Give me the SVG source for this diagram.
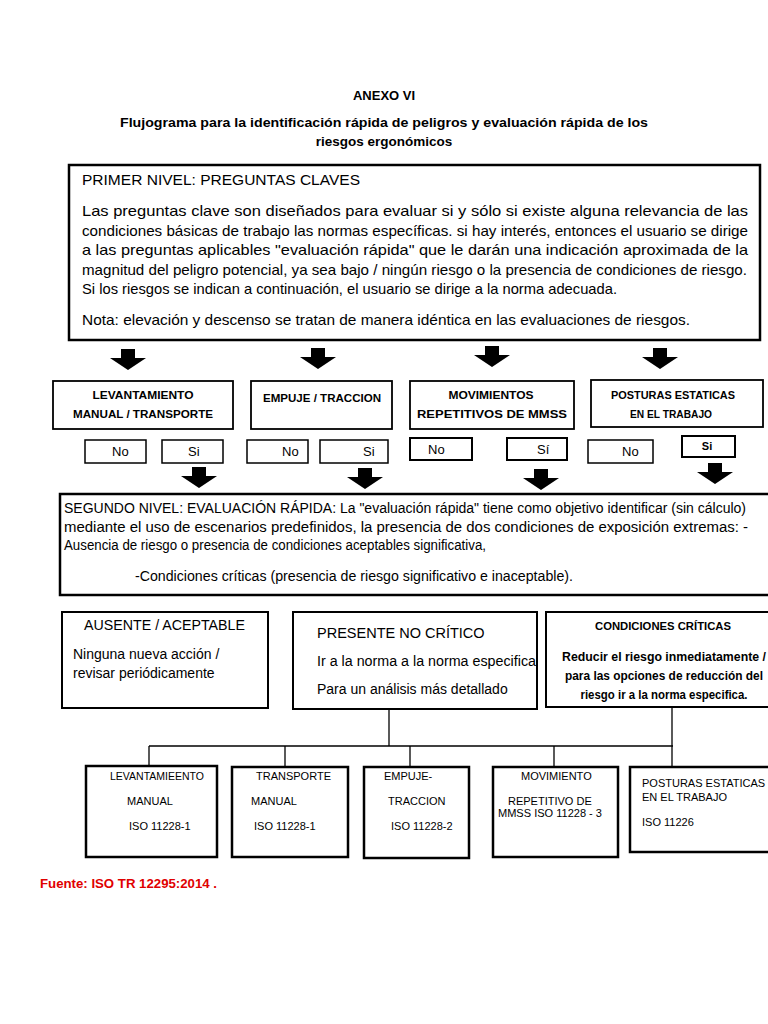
<svg xmlns="http://www.w3.org/2000/svg" width="768" height="1024" viewBox="0 0 768 1024">
<style>
.t{font-family:"Liberation Sans",Arial,sans-serif;fill:#000}
.b{font-weight:bold}
.box{fill:#fff;stroke:#000}
.ln{stroke:#000;stroke-width:1.3;fill:none}
</style>
<defs>
<path id="arr" d="M-7,0 H7 V9 H18 L0,21 L-18,9 H-7 Z" fill="#000"/>
</defs>
<rect width="768" height="1024" fill="#fff"/>
<text class="t b" x="384" y="100" font-size="13" text-anchor="middle">ANEXO VI</text>
<text class="t b" x="384" y="127" font-size="13.5" text-anchor="middle" textLength="528" lengthAdjust="spacingAndGlyphs">Flujograma para la identificación rápida de peligros y evaluación rápida de los</text>
<text class="t b" x="384" y="146" font-size="13.5" text-anchor="middle">riesgos ergonómicos</text>

<g id="primer-nivel">
<rect class="box" x="69" y="165" width="691" height="175" stroke-width="2.5"/>
<text class="t" x="82" y="185" font-size="14.5" textLength="278" lengthAdjust="spacingAndGlyphs">PRIMER NIVEL: PREGUNTAS CLAVES</text>
<text class="t" x="82" y="216" font-size="14.5" textLength="666" lengthAdjust="spacingAndGlyphs">Las preguntas clave son diseñados para evaluar si y sólo si existe alguna relevancia de las</text>
<text class="t" x="82" y="235.5" font-size="14.5" textLength="666" lengthAdjust="spacingAndGlyphs">condiciones básicas de trabajo las normas específicas. si hay interés, entonces el usuario se dirige</text>
<text class="t" x="82" y="255" font-size="14.5" textLength="666" lengthAdjust="spacingAndGlyphs">a las preguntas aplicables "evaluación rápida" que le darán una indicación aproximada de la</text>
<text class="t" x="82" y="274.5" font-size="14.5" textLength="665" lengthAdjust="spacingAndGlyphs">magnitud del peligro potencial, ya sea bajo / ningún riesgo o la presencia de condiciones de riesgo.</text>
<text class="t" x="82" y="294" font-size="14.5" textLength="535" lengthAdjust="spacingAndGlyphs">Si los riesgos se indican a continuación, el usuario se dirige a la norma adecuada.</text>
<text class="t" x="82" y="325" font-size="14.5" textLength="608" lengthAdjust="spacingAndGlyphs">Nota: elevación y descenso se tratan de manera idéntica en las evaluaciones de riesgos.</text>
</g>

<g id="connectors">
<use href="#arr" x="128" y="349"/>
<use href="#arr" x="318" y="348"/>
<use href="#arr" x="492" y="346"/>
<use href="#arr" x="660" y="348"/>
<use href="#arr" x="199" y="467"/>
<use href="#arr" x="365" y="468"/>
<use href="#arr" x="541" y="469"/>
<use href="#arr" x="715" y="463"/>
<line class="ln" x1="389" y1="709" x2="389" y2="746"/>
<line class="ln" x1="672" y1="707" x2="672" y2="767"/>
<line class="ln" x1="149" y1="746" x2="673" y2="746"/>
<line class="ln" x1="149" y1="746" x2="149" y2="766"/>
<line class="ln" x1="285" y1="746" x2="285" y2="767"/>
<line class="ln" x1="410" y1="746" x2="410" y2="767"/>
<line class="ln" x1="554" y1="746" x2="554" y2="767"/>
</g>

<g id="levantamiento">
<rect class="box" x="53" y="381" width="180" height="48" stroke-width="1.8"/>
<text class="t b" x="143" y="399" font-size="11.5" text-anchor="middle" textLength="101" lengthAdjust="spacingAndGlyphs">LEVANTAMIENTO</text>
<text class="t b" x="143" y="418" font-size="11.5" text-anchor="middle" textLength="140" lengthAdjust="spacingAndGlyphs">MANUAL / TRANSPORTE</text>
</g>
<g id="empuje">
<rect class="box" x="251" y="381" width="141" height="48" stroke-width="1.8"/>
<text class="t b" x="322" y="402" font-size="11.5" text-anchor="middle" textLength="118" lengthAdjust="spacingAndGlyphs">EMPUJE / TRACCION</text>
</g>
<g id="movimientos">
<rect class="box" x="410" y="381" width="164" height="48" stroke-width="1.8"/>
<text class="t b" x="491" y="399" font-size="11.5" text-anchor="middle" textLength="85" lengthAdjust="spacingAndGlyphs">MOVIMIENTOS</text>
<text class="t b" x="492" y="418" font-size="11.5" text-anchor="middle" textLength="150" lengthAdjust="spacingAndGlyphs">REPETITIVOS DE MMSS</text>
</g>
<g id="posturas">
<rect class="box" x="591" y="380" width="172" height="47" stroke-width="1.8"/>
<text class="t b" x="673" y="399" font-size="11.5" text-anchor="middle" textLength="124" lengthAdjust="spacingAndGlyphs">POSTURAS ESTATICAS</text>
<text class="t b" x="671" y="418" font-size="11.5" text-anchor="middle" textLength="82" lengthAdjust="spacingAndGlyphs">EN EL TRABAJO</text>
</g>

<g id="no-1"><rect class="box" x="85" y="440" width="61" height="23" stroke-width="1.5"/><text class="t" x="112" y="456" font-size="13">No</text></g>
<g id="si-1"><rect class="box" x="162" y="440" width="61" height="23" stroke-width="1.5"/><text class="t" x="188" y="456" font-size="13">Si</text></g>
<g id="no-2"><rect class="box" x="247" y="440" width="61" height="23" stroke-width="1.5"/><text class="t" x="282" y="456" font-size="13">No</text></g>
<g id="si-2"><rect class="box" x="320" y="440" width="68" height="23" stroke-width="1.5"/><text class="t" x="363" y="456" font-size="13">Si</text></g>
<g id="no-3"><rect class="box" x="410" y="438" width="62" height="22" stroke-width="2"/><text class="t" x="428" y="454" font-size="13">No</text></g>
<g id="si-3"><rect class="box" x="507" y="438" width="60" height="22" stroke-width="2"/><text class="t" x="537" y="454" font-size="13">Sí</text></g>
<g id="no-4"><rect class="box" x="588" y="440" width="65" height="23" stroke-width="1.5"/><text class="t" x="622" y="456" font-size="13">No</text></g>
<g id="si-4"><rect class="box" x="682" y="436" width="53" height="21" stroke-width="2"/><text class="t b" x="707" y="450" font-size="11" text-anchor="middle">Si</text></g>

<g id="segundo-nivel">
<rect class="box" x="60" y="494" width="730" height="101" stroke-width="2.5"/>
<text class="t" x="64" y="513" font-size="14" textLength="682" lengthAdjust="spacingAndGlyphs">SEGUNDO NIVEL: EVALUACIÓN RÁPIDA: La "evaluación rápida" tiene como objetivo identificar (sin cálculo)</text>
<text class="t" x="64" y="532" font-size="14" textLength="684" lengthAdjust="spacingAndGlyphs">mediante el uso de escenarios predefinidos, la presencia de dos condiciones de exposición extremas: -</text>
<text class="t" x="64" y="550" font-size="14" textLength="422" lengthAdjust="spacingAndGlyphs">Ausencia de riesgo o presencia de condiciones aceptables significativa,</text>
<text class="t" x="135" y="581" font-size="14" textLength="438" lengthAdjust="spacingAndGlyphs">-Condiciones críticas (presencia de riesgo significativo e inaceptable).</text>
</g>

<g id="ausente">
<rect class="box" x="62" y="612" width="206" height="96" stroke-width="2"/>
<text class="t" x="84" y="630" font-size="14" textLength="161" lengthAdjust="spacingAndGlyphs">AUSENTE / ACEPTABLE</text>
<text class="t" x="73" y="659" font-size="14">Ninguna nueva acción /</text>
<text class="t" x="73" y="678" font-size="14">revisar periódicamente</text>
</g>
<g id="presente">
<rect class="box" x="293" y="612" width="244" height="97" stroke-width="2"/>
<text class="t" x="317" y="638" font-size="14.5">PRESENTE NO CRÍTICO</text>
<text class="t" x="317" y="666" font-size="14" textLength="219" lengthAdjust="spacingAndGlyphs">Ir a la norma a la norma especifica</text>
<text class="t" x="317" y="694" font-size="14">Para un análisis más detallado</text>
</g>
<g id="criticas">
<rect class="box" x="546" y="612" width="240" height="95" stroke-width="2"/>
<text class="t b" x="663" y="630" font-size="11.5" text-anchor="middle" textLength="136" lengthAdjust="spacingAndGlyphs">CONDICIONES CRÍTICAS</text>
<text class="t b" x="664" y="661" font-size="12.5" text-anchor="middle" textLength="204" lengthAdjust="spacingAndGlyphs">Reducir el riesgo inmediatamente /</text>
<text class="t b" x="664" y="680" font-size="12.5" text-anchor="middle" textLength="198" lengthAdjust="spacingAndGlyphs">para las opciones de reducción del</text>
<text class="t b" x="664" y="699" font-size="12.5" text-anchor="middle" textLength="167" lengthAdjust="spacingAndGlyphs">riesgo ir a la norma especifica.</text>
</g>

<g id="iso-levantamiento">
<rect class="box" x="86" y="766" width="131" height="91" stroke-width="2.5"/>
<text class="t" x="110" y="780" font-size="11" textLength="94" lengthAdjust="spacingAndGlyphs">LEVANTAMIEENTO</text>
<text class="t" x="127" y="805" font-size="11">MANUAL</text>
<text class="t" x="129" y="830" font-size="11">ISO 11228-1</text>
</g>
<g id="iso-transporte">
<rect class="box" x="232" y="767" width="116" height="90" stroke-width="2.5"/>
<text class="t" x="256" y="780" font-size="11">TRANSPORTE</text>
<text class="t" x="251" y="805" font-size="11">MANUAL</text>
<text class="t" x="254" y="830" font-size="11">ISO 11228-1</text>
</g>
<g id="iso-empuje">
<rect class="box" x="364" y="767" width="105" height="91" stroke-width="2.5"/>
<text class="t" x="384" y="780" font-size="11">EMPUJE-</text>
<text class="t" x="388" y="805" font-size="11">TRACCION</text>
<text class="t" x="391" y="830" font-size="11">ISO 11228-2</text>
</g>
<g id="iso-movimiento">
<rect class="box" x="493" y="767" width="125" height="90" stroke-width="2.5"/>
<text class="t" x="521" y="780" font-size="11">MOVIMIENTO</text>
<text class="t" x="508" y="805" font-size="11">REPETITIVO DE</text>
<text class="t" x="498" y="817" font-size="11" textLength="104" lengthAdjust="spacingAndGlyphs">MMSS ISO 11228 - 3</text>
</g>
<g id="iso-posturas">
<rect class="box" x="630" y="767" width="150" height="85" stroke-width="2.5"/>
<text class="t" x="642" y="787" font-size="11">POSTURAS ESTATICAS</text>
<text class="t" x="642" y="801" font-size="11">EN EL TRABAJO</text>
<text class="t" x="642" y="826" font-size="11">ISO 11226</text>
</g>

<text class="t b" x="40" y="888" font-size="12" fill="#e00000" style="fill:#e00000" textLength="177" lengthAdjust="spacingAndGlyphs">Fuente: ISO TR 12295:2014 .</text>
</svg>
